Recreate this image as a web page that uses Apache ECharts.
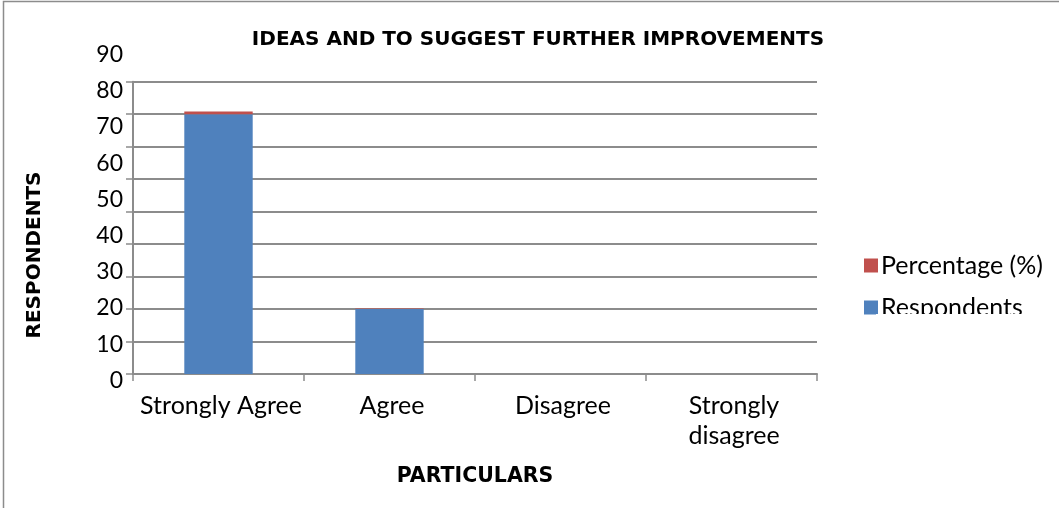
<!DOCTYPE html>
<html><head><meta charset="utf-8">
<script src="https://cdn.jsdelivr.net/npm/echarts@6/dist/echarts.min.js"></script>
<style>html,body{margin:0;padding:0;background:#fff}#c{width:1059px;height:508px}</style>
</head><body><div id="c"></div>
<script>
const title = 'IDEAS AND TO SUGGEST FURTHER IMPROVEMENTS';
const categories = ['Strongly Agree', 'Agree', 'Disagree', 'Strongly\ndisagree'];
const respondents = [80, 20, 0, 0];
const percentage = [0.8, 0.2, 0, 0];
const yTicks = [0, 10, 20, 30, 40, 50, 60, 70, 80, 90];
const xTitle = 'PARTICULARS';
const yTitle = 'RESPONDENTS';
const legendNames = ['Percentage (%)', 'Respondents'];

const gray = '#8c8c8c';
const lab = 'Lato';
const bold = 'DejaVu Sans';
const chart = echarts.init(document.getElementById('c'));
chart.setOption({
  animation: false,
  title: {text: title, left: 533, textAlign: 'center', top: 25,
    textStyle: {fontFamily: bold, fontWeight: 'bold', fontSize: 20, color: '#000'}},
  legend: {
    orient: 'vertical', left: 859, top: 248, itemWidth: 14, itemHeight: 14, itemGap: 17,
    data: legendNames, icon: 'rect',
    textStyle: {fontFamily: lab, fontSize: 25, color: '#000', padding: [0,0,0,-2]}
  },
  grid: [
    {left: 133, right: 242, top: 81.7, bottom: 134},
    {left: 133, right: 242, top: 54.5, bottom: 127.5}
  ],
  xAxis: [
    {type: 'category', gridIndex: 0, data: categories, boundaryGap: true,
     axisLine: {lineStyle: {color: gray, width: 2}},
     axisTick: {show: true, interval: 0, length: 7, lineStyle: {color: gray, width: 1.5}},
     axisLabel: {interval: 0, fontFamily: lab, fontSize: 25, lineHeight: 30, color: '#000', margin: 17,
       padding: [0, 0, 0, 5]},
     name: xTitle, nameLocation: 'middle', nameGap: 92,
     nameTextStyle: {fontFamily: bold, fontWeight: 'bold', fontSize: 20.5, color: '#000'}},
    {type: 'category', gridIndex: 1, data: categories, show: false}
  ],
  yAxis: [
    {type: 'value', gridIndex: 0, min: 0, max: 90, interval: 10,
     axisLine: {show: true, lineStyle: {color: gray, width: 2}},
     axisTick: {show: true, length: 7, lineStyle: {color: gray, width: 1.5}},
     axisLabel: {show: false},
     splitLine: {show: true, lineStyle: {color: gray, width: 2}}},
    {type: 'value', gridIndex: 1, min: 0, max: 90, interval: 10,
     axisLine: {show: false}, axisTick: {show: false}, splitLine: {show: false},
     axisLabel: {fontFamily: lab, fontSize: 23, color: '#000', margin: 10,
       formatter: v => yTicks.includes(v) ? String(v) : ''}}
  ],
  series: [
    {name: 'Respondents', type: 'bar', stack: 's', data: respondents, barWidth: '40%',
     itemStyle: {color: '#4F81BD'}},
    {name: 'Percentage (%)', type: 'bar', stack: 's', data: percentage, barWidth: '40%',
     itemStyle: {color: '#C0504D'}},
    {name: 'labels', type: 'bar', xAxisIndex: 1, yAxisIndex: 1, data: [], silent: true}
  ],
  graphic: [
    {type: 'rect', z: 100, shape: {x: 3.5, y: 1.5, width: 1200, height: 700},
     style: {fill: 'none', stroke: gray, lineWidth: 1.5}},
    {type: 'text', z: 100, x: 35, y: 255, rotation: Math.PI / 2,
     style: {text: yTitle, fontFamily: bold, fontWeight: 'bold', fontSize: 20, fill: '#000',
       textAlign: 'center', textVerticalAlign: 'middle'}},
    {type: 'rect', z: 100, shape: {x: 876, y: 314, width: 200, height: 20},
     style: {fill: '#fff'}}
  ]
});
</script></body></html>
